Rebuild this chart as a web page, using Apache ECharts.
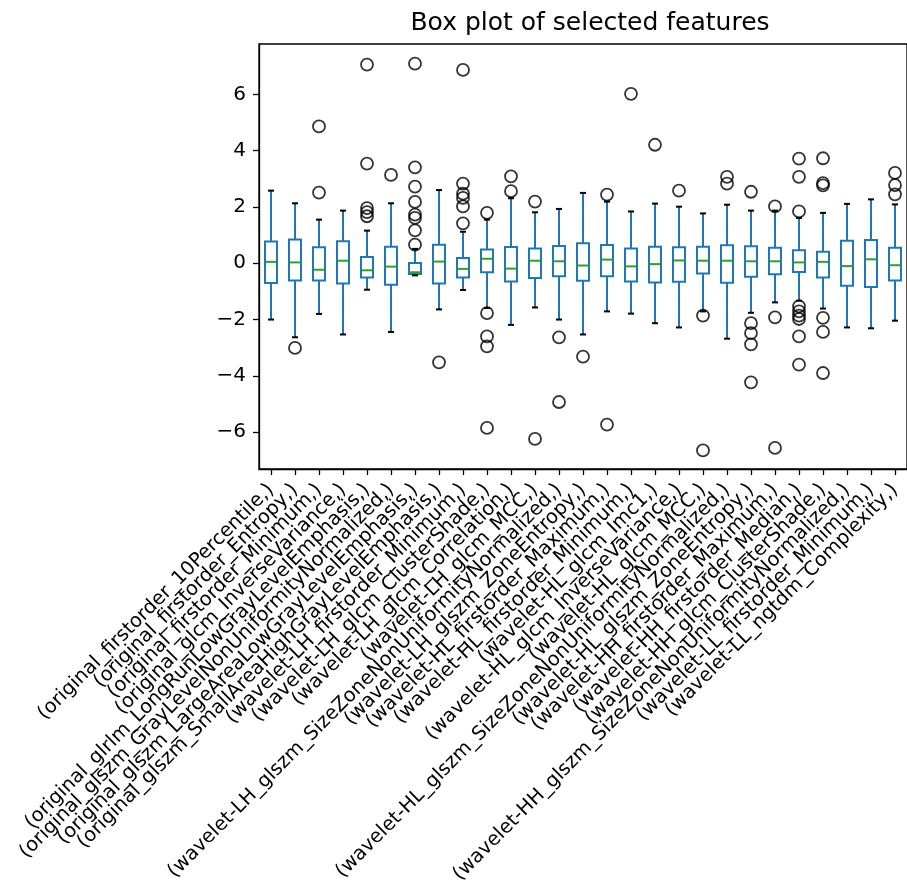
<!DOCTYPE html>
<html>
<head>
<meta charset="utf-8">
<script src="https://cdn.jsdelivr.net/npm/echarts@6/dist/echarts.min.js"></script>
<style>
html,body{margin:0;padding:0;background:#fff;}
#chart{width:907px;height:887px;}
</style>
</head>
<body>
<div id="chart"></div>
<script>
const categories = [
  "(original_firstorder_10Percentile,)",
  "(original_firstorder_Entropy,)",
  "(original_firstorder_Minimum,)",
  "(original_glcm_InverseVariance,)",
  "(original_glrlm_LongRunLowGrayLevelEmphasis,)",
  "(original_glszm_GrayLevelNonUniformityNormalized,)",
  "(original_glszm_LargeAreaLowGrayLevelEmphasis,)",
  "(original_glszm_SmallAreaHighGrayLevelEmphasis,)",
  "(wavelet-LH_firstorder_Minimum,)",
  "(wavelet-LH_glcm_ClusterShade,)",
  "(wavelet-LH_glcm_Correlation,)",
  "(wavelet-LH_glcm_MCC,)",
  "(wavelet-LH_glszm_SizeZoneNonUniformityNormalized,)",
  "(wavelet-LH_glszm_ZoneEntropy,)",
  "(wavelet-HL_firstorder_Maximum,)",
  "(wavelet-HL_firstorder_Minimum,)",
  "(wavelet-HL_glcm_Imc1,)",
  "(wavelet-HL_glcm_InverseVariance,)",
  "(wavelet-HL_glcm_MCC,)",
  "(wavelet-HL_glszm_SizeZoneNonUniformityNormalized,)",
  "(wavelet-HL_glszm_ZoneEntropy,)",
  "(wavelet-HH_firstorder_Maximum,)",
  "(wavelet-HH_firstorder_Median,)",
  "(wavelet-HH_glcm_ClusterShade,)",
  "(wavelet-HH_glszm_SizeZoneNonUniformityNormalized,)",
  "(wavelet-LL_firstorder_Minimum,)",
  "(wavelet-LL_ngtdm_Complexity,)"
];
const whiskerLow  = [-2.00,-2.63,-1.80,-2.53,-0.94,-2.44,-0.43,-1.64,-0.95,-1.59,-2.19,-1.57,-2.00,-2.53,-1.71,-1.79,-2.13,-2.28,-1.71,-2.68,-1.76,-1.39,-1.33,-1.61,-2.28,-2.31,-2.04];
const q1          = [-0.70,-0.61,-0.61,-0.72,-0.51,-0.76,-0.38,-0.72,-0.51,-0.32,-0.65,-0.52,-0.46,-0.62,-0.46,-0.65,-0.68,-0.66,-0.36,-0.69,-0.48,-0.39,-0.31,-0.51,-0.80,-0.84,-0.61];
const median      = [0.05,0.03,-0.23,0.09,-0.25,-0.12,-0.32,0.06,-0.20,0.16,-0.19,0.09,0.07,-0.08,0.13,-0.11,-0.03,0.10,0.09,0.09,0.07,0.07,0.03,0.05,-0.10,0.14,-0.07];
const q3          = [0.77,0.84,0.57,0.78,0.22,0.59,0.01,0.66,0.19,0.49,0.58,0.52,0.61,0.71,0.65,0.52,0.59,0.57,0.59,0.64,0.60,0.55,0.46,0.41,0.80,0.83,0.55];
const whiskerHigh = [2.58,2.13,1.55,1.87,1.16,2.13,0.51,2.60,1.12,1.55,2.31,1.81,1.93,2.50,2.19,1.84,2.12,2.01,1.77,2.08,1.87,1.87,1.61,1.79,2.11,2.27,2.09];
const outliers = [
  [],
  [-3.01],
  [4.86, 2.51],
  [],
  [7.06, 3.54, 1.96, 1.82, 1.67],
  [3.14],
  [7.09, 3.41, 2.72, 2.18, 1.73, 1.61, 1.17, 0.66],
  [-3.52],
  [6.87, 2.83, 2.47, 2.32, 2.02, 1.42],
  [1.79, -1.77, -2.60, -2.95, -5.85],
  [3.09, 2.56],
  [2.19, -6.24],
  [-2.63, -4.93],
  [-3.32],
  [2.44, -5.73],
  [6.02],
  [4.21],
  [2.58],
  [-1.86, -6.65],
  [3.07, 2.83],
  [2.54, -2.13, -2.48, -2.88, -4.23],
  [2.02, -1.92, -6.56],
  [3.72, 3.07, 1.84, -1.53, -1.71, -1.86, -1.98, -2.60, -3.60],
  [3.73, 2.85, 2.77, -1.94, -2.44, -3.90],
  [],
  [],
  [3.21, 2.78, 2.45]
];
const yTicks = [-6, -4, -2, 0, 2, 4, 6];

const boxData = categories.map((c, i) => [i, whiskerLow[i], q1[i], median[i], q3[i], whiskerHigh[i]]);
const outlierData = [];
outliers.forEach((arr, i) => arr.forEach(v => outlierData.push([i, v])));

function renderItem(params, api) {
  const i = api.value(0);
  const lo = api.coord([i, api.value(1)]);
  const b1 = api.coord([i, api.value(2)]);
  const md = api.coord([i, api.value(3)]);
  const b3 = api.coord([i, api.value(4)]);
  const hi = api.coord([i, api.value(5)]);
  const step = api.size([1, 0])[0];
  const bw = step * 0.5;
  const cw = bw * 0.5;
  const x = lo[0];
  const blue = '#1f77b4';
  const lw = 2;
  return {
    type: 'group',
    children: [
      {type: 'rect', shape: {x: x - bw / 2, y: b3[1], width: bw, height: b1[1] - b3[1]},
       style: {fill: 'none', stroke: blue, lineWidth: lw}},
      {type: 'line', shape: {x1: x, y1: b1[1], x2: x, y2: lo[1]}, style: {stroke: blue, lineWidth: lw}},
      {type: 'line', shape: {x1: x, y1: b3[1], x2: x, y2: hi[1]}, style: {stroke: blue, lineWidth: lw}},
      {type: 'line', shape: {x1: x - cw / 2, y1: lo[1], x2: x + cw / 2, y2: lo[1]}, style: {stroke: '#000', lineWidth: lw}},
      {type: 'line', shape: {x1: x - cw / 2, y1: hi[1], x2: x + cw / 2, y2: hi[1]}, style: {stroke: '#000', lineWidth: lw}},
      {type: 'line', shape: {x1: x - bw / 2, y1: md[1], x2: x + bw / 2, y2: md[1]}, style: {stroke: '#2ca02c', lineWidth: lw}}
    ]
  };
}

const chart = echarts.init(document.getElementById('chart'), null, {renderer: 'canvas'});
const font = 'DejaVu Sans';
chart.setOption({
  animation: false,
  backgroundColor: '#fff',
  title: {
    text: 'Box plot of selected features',
    left: 585, top: 6, textAlign: 'center',
    textStyle: {fontFamily: font, fontSize: 25, fontWeight: 'normal', color: '#000'}
  },
  grid: {left: 259, top: 44, width: 656, height: 425, show: true, borderColor: '#000', borderWidth: 1.3, containLabel: false},
  xAxis: {
    type: 'category',
    data: categories,
    boundaryGap: true,
    axisLine: {show: true, onZero: false, lineStyle: {color: '#000', width: 1.3}},
    axisTick: {show: true, alignWithLabel: true, length: 6, lineStyle: {color: '#000', width: 1.3}},
    axisLabel: {interval: 0, rotate: 45, margin: 18, fontFamily: font, fontSize: 19.5, color: '#000'},
    splitLine: {show: false}
  },
  yAxis: {
    type: 'value',
    min: -7.31, max: 7.79,
    axisLine: {show: true, lineStyle: {color: '#000', width: 1.3}},
    axisTick: {show: true, length: 6, customValues: yTicks, lineStyle: {color: '#000', width: 1.3}},
    axisLabel: {customValues: yTicks, margin: 13, fontFamily: font, fontSize: 20, color: '#000',
      formatter: v => (v < 0 ? '\u2212' + Math.abs(v) : String(v))},
    splitLine: {show: false}
  },
  series: [
    {type: 'custom', renderItem: renderItem, data: boxData, encode: {x: 0, y: [1, 2, 3, 4, 5]}, z: 2},
    {type: 'scatter', data: outlierData, symbol: 'circle', symbolSize: 12,
     itemStyle: {color: 'rgba(0,0,0,0)', borderColor: '#000', borderWidth: 1.8}, z: 3}
  ]
});
</script>
</body>
</html>
